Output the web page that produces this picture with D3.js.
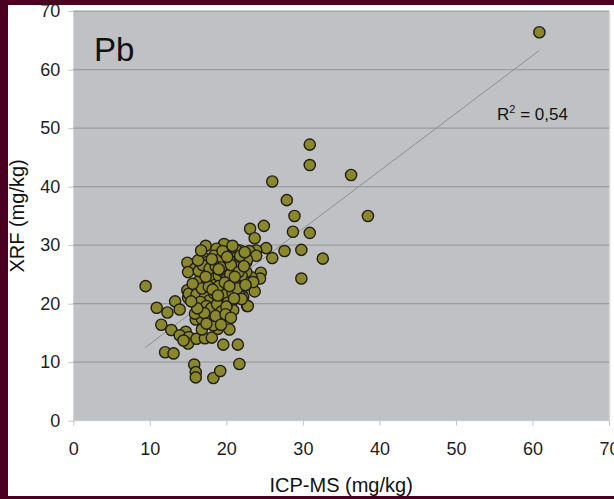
<!DOCTYPE html>
<html>
<head>
<meta charset="utf-8">
<script src="https://d3js.org/d3.v7.min.js"></script>
<style>
  html, body { margin: 0; padding: 0; background: #4a0021; }
  svg { display: block; font-family: 'Liberation Sans', Arial, Helvetica, sans-serif; }
</style>
</head>
<body>
<svg id="chart" width="614" height="499"></svg>
<script>
// --- Data: [ICP-MS, XRF] pairs (mg/kg) ---
const icpms = [
  60.9, 36.3, 30.9, 30.9, 38.5, 26.0, 27.9, 28.9, 28.7, 30.9, 29.8, 27.6, 32.6, 29.8, 26.0, 25.2, 24.9, 23.1, 23.7, 24.5,
  23.7, 22.7, 22.0, 21.8, 23.9, 22.6, 23.1, 24.4, 23.0, 23.9, 22.7, 23.3, 23.5, 22.6,
  9.45, 10.9, 12.3, 13.3, 13.9, 11.5, 12.8, 12.0, 13.1, 15.8, 16.0, 16.0, 18.3, 19.2, 21.7, 19.6, 21.5, 20.4,
  17.3, 19.7, 14.9, 15.9, 15.0, 14.9, 15.0, 15.1, 16.1, 17.0, 18.7, 21.3, 21.2, 20.9, 18.7, 21.5, 17.4, 16.1,
  16.0, 16.8, 14.7, 13.9, 15.1, 15.0, 14.4, 16.1, 17.2, 18.1, 18.9, 18.5, 19.2, 18.3, 20.7, 20.9, 22.2, 22.8,
  15.9, 16.8, 18.3, 18.2, 20.0, 19.4, 20.7, 21.7, 22.0,
  16.5, 17.0, 17.5, 18.0, 18.5, 19.0, 19.5, 20.0, 20.5, 21.0, 21.5, 22.0, 17.2, 17.8, 18.4, 19.0, 19.6, 20.2, 20.8, 21.4,
  16.6, 17.4, 18.0, 18.8, 19.4, 20.0, 17.6, 18.4, 19.2, 19.8, 20.4, 21.8, 22.4, 16.4, 16.9, 17.8, 18.6, 19.3, 20.6, 21.6,
  19.0, 19.8, 20.4, 21.1, 16.8, 17.7, 18.2, 17.1, 18.6, 19.9, 20.6, 16.2, 15.6, 15.4, 16.3, 19.5, 20.8, 22.3, 17.4, 19.3,
  21.0, 22.5, 18.1, 16.7, 20.1, 19.0, 17.3, 18.9
];
const xrf = [
  66.4, 42.0, 47.2, 43.7, 35.0, 40.9, 37.7, 35.0, 32.3, 32.1, 29.2, 29.0, 27.7, 24.3, 27.8, 29.5, 33.3, 32.8, 31.2, 25.3,
  22.1, 19.6, 21.7, 29.1, 29.1, 27.1, 24.3, 24.3, 29.0, 28.2, 27.5, 24.5, 23.7, 25.4,
  23.0, 19.3, 18.5, 20.4, 19.0, 16.4, 15.5, 11.7, 11.5, 9.6, 8.3, 7.4, 7.3, 8.5, 9.7, 13.0, 13.0, 15.6,
  29.9, 30.2, 27.0, 26.0, 25.4, 22.3, 21.0, 21.7, 22.9, 27.9, 27.1, 29.2, 27.8, 26.8, 29.4, 24.1, 22.1, 21.6,
  17.3, 17.4, 15.2, 14.6, 14.3, 13.2, 13.7, 14.0, 14.1, 14.2, 15.7, 17.2, 17.2, 18.6, 20.3, 18.9, 21.1, 19.6,
  18.3, 15.6, 16.3, 25.4, 26.0, 22.9, 22.7, 21.4, 20.8,
  24.0, 25.2, 23.8, 24.5, 23.2, 24.8, 25.6, 24.2, 25.0, 23.6, 26.2, 24.8, 21.2, 20.6, 21.8, 20.9, 21.5, 20.2, 21.9, 22.6,
  20.3, 19.6, 19.2, 19.9, 18.7, 19.5, 27.2, 28.2, 27.6, 28.6, 27.4, 28.2, 28.8, 25.6, 26.6, 26.0, 26.4, 26.2, 26.6, 25.4,
  23.0, 23.6, 23.0, 24.6, 22.6, 22.9, 22.4, 18.4, 17.9, 18.2, 17.6, 19.2, 23.4, 20.4, 27.4, 29.0, 29.9, 26.4, 16.6, 16.4,
  20.9, 23.2, 27.6, 29.1, 28.0, 25.9, 24.6, 21.4
];

const xTicks = [0, 10, 20, 30, 40, 50, 60, 70];
const yTicks = [0, 10, 20, 30, 40, 50, 60, 70];

// linear trendline as shown in the chart
const trendSlope = 0.986;
const trendIntercept = 3.24;
const element = "Pb";
const r2Label = "0,54";

// --- Layout ---
const svg = d3.select("#chart");
const frame = { left: 8, top: 5, right: 614, bottom: 496 };
const plot = { left: 73.3, top: 11.2, right: 609, bottom: 420.7 };

svg.append("rect")
  .attr("x", frame.left).attr("y", frame.top)
  .attr("width", frame.right - frame.left).attr("height", frame.bottom - frame.top)
  .attr("fill", "#ffffff");

const x = d3.scaleLinear().domain([0, 70]).range([plot.left, plot.right]);
const y = d3.scaleLinear().domain([0, 70]).range([plot.bottom, plot.top]);

// plot background
svg.append("rect")
  .attr("x", plot.left).attr("y", plot.top)
  .attr("width", plot.right - plot.left).attr("height", plot.bottom - plot.top)
  .attr("fill", "#c0c1c5");

svg.append("line")
  .attr("x1", plot.right + 0.5).attr("x2", plot.right + 0.5)
  .attr("y1", plot.top).attr("y2", plot.bottom)
  .attr("stroke", "#d6d6d8").attr("stroke-width", 1.5);

// gridlines
svg.append("g")
  .selectAll("line")
  .data(yTicks.filter(d => d > 0))
  .enter().append("line")
  .attr("x1", plot.left).attr("x2", plot.right)
  .attr("y1", d => y(d)).attr("y2", d => y(d))
  .attr("stroke", "#9c9c9e").attr("stroke-width", 1.2);

// axes
const xAxis = svg.append("g")
  .attr("transform", `translate(0,${plot.bottom})`)
  .call(d3.axisBottom(x).tickValues(xTicks).tickSize(5).tickPadding(17).tickFormat(d3.format("d")));
const yAxis = svg.append("g")
  .attr("transform", `translate(${plot.left},0)`)
  .call(d3.axisLeft(y).tickValues(yTicks).tickSize(5).tickPadding(8).tickFormat(d3.format("d")));

[xAxis, yAxis].forEach(a => {
  a.select(".domain").remove();
  a.selectAll(".tick line").attr("stroke", "#c4c4c4");
  a.selectAll(".tick text").attr("font-size", 18).attr("fill", "#1e1e1e")
    .attr("font-family", "'Liberation Sans', Arial, sans-serif");
});

svg.append("line")
  .attr("x1", plot.left).attr("x2", plot.right)
  .attr("y1", plot.bottom).attr("y2", plot.bottom)
  .attr("stroke", "#c8c8c8").attr("stroke-width", 1);

// trendline
const xMin = d3.min(icpms), xMax = d3.max(icpms);
svg.append("line")
  .attr("x1", x(xMin)).attr("y1", y(trendSlope * xMin + trendIntercept))
  .attr("x2", x(xMax)).attr("y2", y(trendSlope * xMax + trendIntercept))
  .attr("stroke", "#8f8f92").attr("stroke-width", 1);

// points
const points = icpms.map((v, i) => ({ icp: v, xrf: xrf[i] }));
svg.append("g")
  .selectAll("circle")
  .data(points)
  .enter().append("circle")
  .attr("cx", d => x(d.icp))
  .attr("cy", d => y(d.xrf))
  .attr("r", 5.6)
  .attr("fill", "#8a872c")
  .attr("stroke", "#1f1f14")
  .attr("stroke-width", 1.4);

// labels
svg.append("text")
  .attr("x", 94).attr("y", 61)
  .attr("font-size", 33).attr("fill", "#111")
  .text(element);

const r2 = svg.append("text")
  .attr("x", 497).attr("y", 120)
  .attr("font-size", 17).attr("fill", "#111");
r2.append("tspan").text("R");
r2.append("tspan").attr("font-size", 11).attr("dy", -7).text("2");
r2.append("tspan").attr("dy", 7).text(" = " + r2Label);

svg.append("text")
  .attr("x", (plot.left + plot.right) / 2).attr("y", 492)
  .attr("text-anchor", "middle")
  .attr("font-size", 20).attr("fill", "#111")
  .text("ICP-MS (mg/kg)");

svg.append("text")
  .attr("transform", `translate(24,${(plot.top + plot.bottom) / 2}) rotate(-90)`)
  .attr("text-anchor", "middle")
  .attr("font-size", 20).attr("fill", "#111")
  .text("XRF (mg/kg)");
</script>
</body>
</html>
